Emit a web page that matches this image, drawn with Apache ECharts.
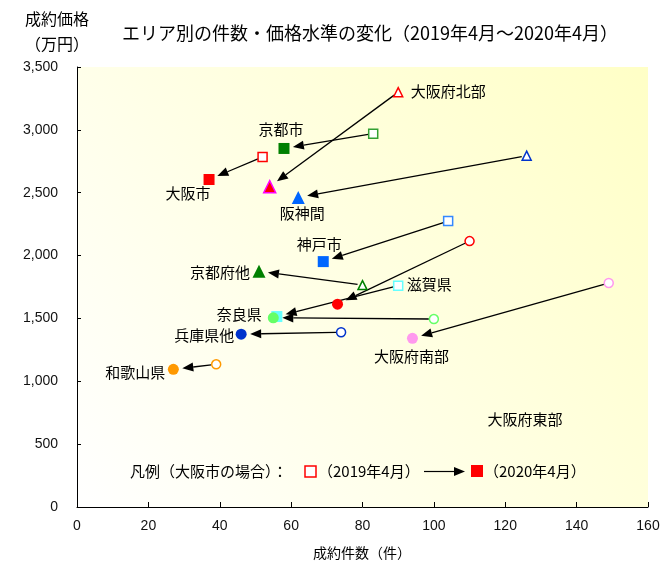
<!DOCTYPE html>
<html>
<head>
<meta charset="utf-8">
<script src="https://cdn.jsdelivr.net/npm/echarts@6/dist/echarts.min.js"></script>
<style>html,body{margin:0;padding:0;background:#fff}#c{width:663px;height:564px}</style>
</head>
<body>
<div id="c"></div>
<script>
// ---- data ----
const areas = ['大阪市','京都市','大阪府北部','阪神間','神戸市','滋賀県','京都府他','大阪府東部','奈良県','大阪府南部','兵庫県他','和歌山県'];
const count2019 = [52, 83, 90, 126, 104, 90, 80, 110, 100, 149, 74, 39];
const price2019 = [2785, 2970, 3300, 2795, 2275, 1760, 1765, 2115, 1495, 1782, 1390, 1135];
const count2020 = [37, 58, 54, 62, 69, 56, 51, 73, 55, 94, 46, 27];
const price2020 = [2605, 2852, 2548, 2462, 1952, 1515, 1875, 1613, 1505, 1342, 1375, 1095];
const xTicks = [0, 20, 40, 60, 80, 100, 120, 140, 160];
const yTicks = [0, 500, 1000, 1500, 2000, 2500, 3000, 3500];

// ---- styles (separate from data) ----
const symbolOf = ['rect','rect','triangle','triangle','rect','rect','triangle','circle','circle','circle','circle','circle'];
const openColor = ['#FF0000','#33A033','#FF0000','#0033CC','#3388FF','#66FFFF','#008000','#FF0000','#66FF66','#FF99EE','#0033CC','#FF9900'];
const fillColor = ['#FF0000','#008000','#FF0000','#0066FF','#0066FF','#66FFFF','#008000','#FF0000','#66FF66','#FF99EE','#0033CC','#FF9900'];
const fillBorder = [null,null,'#FF00FF',null,null,null,null,null,null,null,null,null];
const labelOn = [2020,2020,2019,2020,2020,2019,2020,0,2020,2020,2020,2020];
const labelOffset = [[-21,14],[-3,-19],[50,-1],[4,16],[-4,-17],[31,-1],[-39,1],[0,0],[-34,-4],[-1,18],[-37,1],[-38,3]];

const JP = '"Noto Sans CJK JP", "Noto Sans", sans-serif';
const NUM = '"Liberation Sans", Arial, sans-serif';

function sizeFor(sym, open) {
  if (open) return 9;
  return sym === 'triangle' ? 13 : 11;
}

function mkLabel(i, yr) {
  if (labelOn[i] !== yr) return { show: false };
  return { show: true, position: 'inside', offset: labelOffset[i], formatter: areas[i],
           color: '#000', fontSize: 15, fontFamily: JP };
}

const data19 = areas.map((a, i) => ({
  name: a, value: [count2019[i], price2019[i]], symbol: symbolOf[i],
  symbolSize: sizeFor(symbolOf[i], true),
  itemStyle: { color: '#FFFFFF', borderColor: openColor[i], borderWidth: 1.5, opacity: 1 },
  label: mkLabel(i, 2019)
}));
const data20 = areas.map((a, i) => ({
  name: a, value: [count2020[i], price2020[i]], symbol: symbolOf[i],
  symbolSize: fillBorder[i] ? 12 : sizeFor(symbolOf[i], false),
  itemStyle: fillBorder[i] ? { color: fillColor[i], borderColor: fillBorder[i], borderWidth: 1.5, opacity: 1 } : { color: fillColor[i], opacity: 1 },
  label: mkLabel(i, 2020)
}));
const arrowData = areas.map((a, i) => [count2019[i], price2019[i], count2020[i], price2020[i]]);

function renderArrow(params, api) {
  const p1 = api.coord([api.value(0), api.value(1)]);
  const p2 = api.coord([api.value(2), api.value(3)]);
  const dx = p2[0] - p1[0], dy = p2[1] - p1[1];
  const L = Math.hypot(dx, dy) || 1;
  const ux = dx / L, uy = dy / L;
  const tip = [p2[0] - ux * 9, p2[1] - uy * 9];
  const base = [tip[0] - ux * 11, tip[1] - uy * 11];
  const s = [p1[0] + ux * 5, p1[1] + uy * 5];
  const hw = 4.5;
  return {
    type: 'group',
    children: [
      { type: 'line', shape: { x1: s[0], y1: s[1], x2: base[0], y2: base[1] }, style: { stroke: '#000', lineWidth: 1.3 } },
      { type: 'polygon', shape: { points: [tip, [base[0] - uy * hw, base[1] + ux * hw], [base[0] + uy * hw, base[1] - ux * hw]] }, style: { fill: '#000' } }
    ]
  };
}

const chart = echarts.init(document.getElementById('c'), null, { renderer: 'canvas' });
chart.setOption({
  animation: false,
  backgroundColor: '#FFFFFF',
  grid: {
    left: 77, right: 15, top: 67, bottom: 57, show: true, borderWidth: 0,
    backgroundColor: new echarts.graphic.LinearGradient(0, 1, 1, 0, [
      { offset: 0, color: '#FFFFFF' }, { offset: 1, color: '#FFFFC6' }
    ])
  },
  xAxis: {
    type: 'value', min: xTicks[0], max: xTicks[xTicks.length - 1], interval: xTicks[1] - xTicks[0],
    axisLine: { show: true, onZero: false, lineStyle: { color: '#000', width: 1 } },
    axisTick: { show: true, inside: true, length: 5, lineStyle: { color: '#000' } },
    axisLabel: { margin: 12, fontSize: 14, color: '#111', fontFamily: NUM },
    splitLine: { show: false }
  },
  yAxis: {
    type: 'value', min: yTicks[0], max: yTicks[yTicks.length - 1], interval: yTicks[1] - yTicks[0],
    axisLine: { show: true, onZero: false, lineStyle: { color: '#000', width: 1 } },
    axisTick: { show: true, inside: true, length: 4, lineStyle: { color: '#000' } },
    axisLabel: { margin: 19, fontSize: 14, color: '#111', fontFamily: NUM,
      formatter: v => String(v).replace(/\B(?=(\d{3})+(?!\d))/g, ',') },
    splitLine: { show: false }
  },
  series: [
    { type: 'custom', renderItem: renderArrow, data: arrowData, encode: { x: [0, 2], y: [1, 3] }, z: 2, silent: true },
    { type: 'scatter', data: data19, z: 3 },
    { type: 'scatter', data: data20, z: 4 }
  ],
  graphic: [
    { type: 'text', x: 57, y: 19, style: { text: '成約価格', font: '16px ' + JP, fill: '#000', align: 'center', verticalAlign: 'middle' } },
    { type: 'text', x: 57, y: 44, style: { text: '（万円）', font: '16px ' + JP, fill: '#000', align: 'center', verticalAlign: 'middle' } },
    { type: 'text', x: 370, y: 33, style: { text: 'エリア別の件数・価格水準の変化（2019年4月～2020年4月）', font: '18px ' + JP, fill: '#000', align: 'center', verticalAlign: 'middle' } },
    { type: 'text', x: 362, y: 553, style: { text: '成約件数（件）', font: '14px ' + JP, fill: '#000', align: 'center', verticalAlign: 'middle' } },
    { type: 'text', x: 525, y: 419, style: { text: '大阪府東部', font: '15px ' + JP, fill: '#000', align: 'center', verticalAlign: 'middle' } },
    // legend
    { type: 'text', x: 130, y: 471, style: { text: '凡例（大阪市の場合）：', font: '15px ' + JP, fill: '#000', align: 'left', verticalAlign: 'middle' } },
    { type: 'rect', shape: { x: 305, y: 466, width: 11, height: 11 }, style: { fill: '#fff', stroke: '#FF0000', lineWidth: 1.5 } },
    { type: 'text', x: 318, y: 471, style: { text: '（2019年4月）', font: '15px ' + JP, fill: '#000', align: 'left', verticalAlign: 'middle' } },
    { type: 'line', shape: { x1: 424, y1: 471.5, x2: 455, y2: 471.5 }, style: { stroke: '#000', lineWidth: 1.2 } },
    { type: 'polygon', shape: { points: [[465, 471.5], [454, 467], [454, 476]] }, style: { fill: '#000' } },
    { type: 'rect', shape: { x: 471, y: 465, width: 12, height: 12 }, style: { fill: '#FF0000' } },
    { type: 'text', x: 484, y: 471, style: { text: '（2020年4月）', font: '15px ' + JP, fill: '#000', align: 'left', verticalAlign: 'middle' } }
  ]
});
</script>
</body>
</html>
